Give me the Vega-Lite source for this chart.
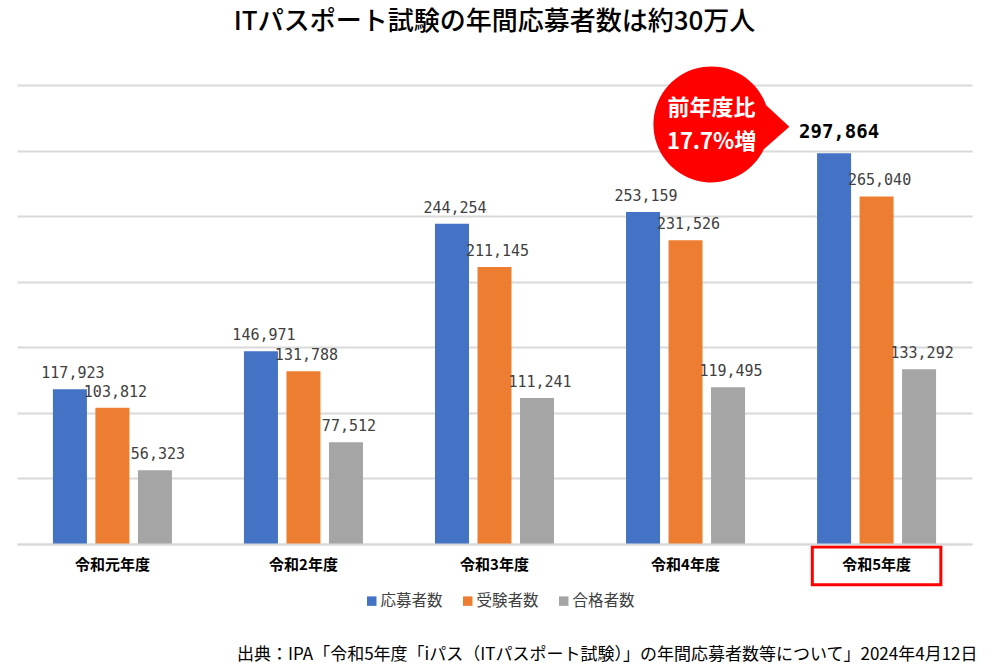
{
  "$schema": "https://vega.github.io/schema/vega-lite/v6.json",
  "width": 955,
  "height": 459,
  "autosize": {"type": "none"},
  "padding": {"left": 17, "top": 85, "right": 22, "bottom": 125},
  "background": "white",
  "title": {
    "text": "ITパスポート試験の年間応募者数は約30万人",
    "anchor": "middle",
    "frame": "group",
    "font": "Noto Sans CJK JP",
    "fontSize": 26,
    "fontWeight": 500,
    "color": "#000000",
    "offset": 31
  },
  "config": {
    "view": {"stroke": null},
    "font": "Noto Sans CJK JP"
  },
  "datasets": {
    "main": [
      {"year": "令和元年度", "series": "応募者数", "value": 117923},
      {"year": "令和元年度", "series": "受験者数", "value": 103812},
      {"year": "令和元年度", "series": "合格者数", "value": 56323},
      {"year": "令和2年度", "series": "応募者数", "value": 146971},
      {"year": "令和2年度", "series": "受験者数", "value": 131788},
      {"year": "令和2年度", "series": "合格者数", "value": 77512},
      {"year": "令和3年度", "series": "応募者数", "value": 244254},
      {"year": "令和3年度", "series": "受験者数", "value": 211145},
      {"year": "令和3年度", "series": "合格者数", "value": 111241},
      {"year": "令和4年度", "series": "応募者数", "value": 253159},
      {"year": "令和4年度", "series": "受験者数", "value": 231526},
      {"year": "令和4年度", "series": "合格者数", "value": 119495},
      {"year": "令和5年度", "series": "応募者数", "value": 297864},
      {"year": "令和5年度", "series": "受験者数", "value": 265040},
      {"year": "令和5年度", "series": "合格者数", "value": 133292}
    ]
  },
  "data": {"name": "main"},
  "encoding": {
    "x": {
      "field": "year",
      "type": "nominal",
      "sort": ["令和元年度", "令和2年度", "令和3年度", "令和4年度", "令和5年度"],
      "scale": {"paddingInner": 0.377, "paddingOuter": 0.188},
      "axis": {
        "title": "出典：IPA「令和5年度「iパス（ITパスポート試験）」の年間応募者数等について」2024年4月12日",
        "titleFont": "Noto Sans CJK JP",
        "titleFontSize": 17,
        "titleFontWeight": "normal",
        "titleColor": "#000000",
        "titleAnchor": "end",
        "titleAlign": "right",
        "titleX": 960,
        "titlePadding": 74,
        "labelAngle": 0,
        "labelFont": "Noto Sans CJK JP",
        "labelFontSize": 15,
        "labelFontWeight": "bold",
        "labelColor": "#000000",
        "labelPadding": 13,
        "ticks": false,
        "domain": true,
        "domainColor": "#d9d9d9",
        "domainWidth": 2
      }
    }
  },
  "layer": [
    {
      "data": {"values": [{"year": "令和5年度", "top": -2300, "bottom": -31000}]},
      "mark": {"type": "rect", "fill": null, "stroke": "#ff0000", "strokeWidth": 3, "width": {"band": 1.08}},
      "encoding": {
        "y": {"field": "top", "type": "quantitative"},
        "y2": {"field": "bottom"}
      }
    },
    {
      "mark": {"type": "bar"},
      "encoding": {
        "xOffset": {
          "field": "series",
          "type": "nominal",
          "sort": ["応募者数", "受験者数", "合格者数"],
          "scale": {"paddingInner": 0.2, "paddingOuter": 0}
        },
        "y": {
          "field": "value",
          "type": "quantitative",
          "scale": {"domain": [0, 350000], "nice": false},
          "axis": {
            "values": [0, 50000, 100000, 150000, 200000, 250000, 300000, 350000],
            "grid": true,
            "gridColor": "#d9d9d9",
            "gridWidth": 2,
            "labels": false,
            "ticks": false,
            "domain": false,
            "title": null
          }
        },
        "color": {
          "field": "series",
          "type": "nominal",
          "sort": ["応募者数", "受験者数", "合格者数"],
          "scale": {"domain": ["応募者数", "受験者数", "合格者数"], "range": ["#4472C4", "#ED7D31", "#A5A5A5"]},
          "legend": {
            "title": null,
            "orient": "none",
            "direction": "horizontal",
            "legendX": 347,
            "legendY": 508,
            "symbolType": "square",
            "symbolSize": 90,
            "symbolOpacity": 1,
            "labelFont": "Noto Sans CJK JP",
            "labelFontSize": 15.5,
            "labelColor": "#404040",
            "labelOffset": 1,
            "columnPadding": 17
          }
        }
      }
    },
    {
      "transform": [{"filter": "datum.value < 290000"}],
      "mark": {"type": "text", "font": "DejaVu Sans Mono", "fontSize": 15, "color": "#404040", "baseline": "middle", "dy": -16, "dx": 3},
      "encoding": {
        "xOffset": {"field": "series", "type": "nominal", "sort": ["応募者数", "受験者数", "合格者数"]},
        "y": {"field": "value", "type": "quantitative"},
        "text": {"field": "value", "type": "quantitative", "format": ","}
      }
    },
    {
      "transform": [{"filter": "datum.value >= 290000"}],
      "mark": {"type": "text", "font": "DejaVu Sans Mono", "fontSize": 19, "fontWeight": "bold", "color": "#000000", "baseline": "middle", "dy": -21, "dx": 5},
      "encoding": {
        "xOffset": {"field": "series", "type": "nominal", "sort": ["応募者数", "受験者数", "合格者数"]},
        "y": {"field": "value", "type": "quantitative"},
        "text": {"field": "value", "type": "quantitative", "format": ","}
      }
    },
    {
      "data": {"values": [{"year": "令和4年度", "series": "受験者数", "pos": 319500}]},
      "mark": {
        "type": "point",
        "filled": true,
        "opacity": 1,
        "color": "#ff0000",
        "size": 13456,
        "shape": "M 1.39 -0.34 L 1.79 0.03 L 1.35 0.42 A 1 1 0 1 1 1.39 -0.34 Z"
      },
      "encoding": {
        "xOffset": {"field": "series", "type": "nominal", "sort": ["応募者数", "受験者数", "合格者数"]},
        "y": {"field": "pos", "type": "quantitative"}
      }
    },
    {
      "data": {"values": [{"year": "令和4年度", "series": "受験者数", "pos": 319500, "note": ["前年度比", "17.7%増"]}]},
      "mark": {"type": "text", "font": "Noto Sans CJK JP", "fontSize": 22, "fontWeight": "bold", "color": "#ffffff", "baseline": "middle", "lineHeight": 34, "dx": 26, "dy": -17},
      "encoding": {
        "xOffset": {"field": "series", "type": "nominal", "sort": ["応募者数", "受験者数", "合格者数"]},
        "y": {"field": "pos", "type": "quantitative"},
        "text": {"field": "note"}
      }
    }
  ]
}
